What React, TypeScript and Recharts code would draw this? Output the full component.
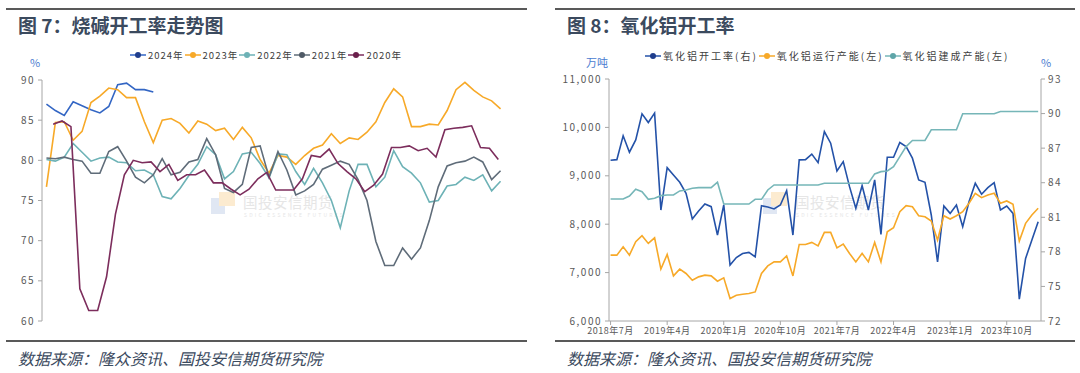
import React from 'react';
import { LineChart, Line, XAxis, YAxis } from 'recharts';

// ---- 图7 烧碱开工率 (weekly, %) ----
const monthLabels = ['1月', '2月', '3月', '4月', '5月', '6月', '7月', '8月', '9月', '10月', '11月', '12月'];

const rate2024 = [87.0, 86.2, 85.6, 87.3, 86.8, 86.3, 85.9, 86.7, 89.4, 89.6, 88.8, 88.8, 88.5];
const rate2023 = [
  76.7, 84.7, 84.8, 82.5, 83.6, 87.2, 88.0, 89.0, 88.8, 87.8, 87.8, 84.8, 82.2, 85.0, 85.2, 84.6, 83.4, 84.9,
  84.5, 83.7, 84.0, 82.6, 84.1, 82.8, 80.1, 78.4, 80.6, 80.4, 79.5, 80.6, 81.5, 81.9, 83.3, 82.1, 82.8, 82.6,
  83.5, 84.8, 87.2, 88.9, 87.9, 84.2, 84.2, 84.5, 84.4, 86.2, 88.8, 89.7, 88.7, 87.9, 87.4, 86.4,
];
const rate2022 = [
  80.1, 79.9, 80.4, 82.1, 81.0, 79.9, 80.3, 80.4, 79.8, 79.7, 78.7, 78.8, 78.2, 75.5, 75.2, 76.5, 78.1, 79.5,
  81.7, 80.7, 77.7, 78.6, 80.8, 81.0, 79.6, 77.8, 80.8, 80.7, 78.6, 77.0, 79.0, 77.2, 75.0, 71.6, 76.2, 79.5,
  79.5, 76.7, 77.9, 81.2, 79.2, 78.4, 77.2, 74.8, 75.0, 76.8, 77.0, 77.9, 77.5, 78.2, 76.2, 77.4,
];
const rate2021 = [
  80.3, 80.2, 80.4, 80.1, 79.9, 78.4, 78.4, 81.1, 81.7, 79.9, 77.9, 77.2, 78.2, 80.2, 78.2, 78.5, 79.8, 80.1,
  82.7, 80.7, 76.5, 76.0, 77.0, 81.6, 81.8, 77.9, 81.1, 78.8, 75.7, 76.2, 77.0, 78.9, 79.4, 79.9, 79.5, 77.6,
  75.0, 69.9, 66.9, 66.9, 69.1, 67.7, 69.1, 72.5, 76.7, 79.3, 79.7, 79.9, 80.4, 79.8, 77.6, 78.7,
];
const rate2020 = [
  84.5, 84.9, 84.2, 64.0, 61.3, 61.3, 65.5, 73.3, 78.2, 80.0, 79.7, 79.8, 78.6, 79.5, 77.5, 78.2, 78.2,
  78.8, 77.2, 77.2, 76.4, 75.7, 76.4, 77.7, 78.5, 76.3, 76.3, 76.3, 77.7, 80.6, 80.4, 81.4, 79.6, 78.6,
  77.7, 76.1, 76.9, 78.3, 81.6, 81.6, 81.8, 81.2, 81.5, 80.4, 83.8, 84.0, 84.1, 84.3, 81.6, 81.5, 80.1,
];
const leftTicks = [60, 65, 70, 75, 80, 85, 90];

// ---- 图8 氧化铝开工率 (monthly, 2018-07 .. 2024-03) ----
const aluminaTickLabels = ['2018年7月', '2019年4月', '2020年1月', '2020年10月', '2021年7月', '2022年4月', '2023年1月', '2023年10月'];
const aluminaRate = [
  85.95, 86.0, 88.07, 86.65, 87.72, 89.98, 89.22, 90.04, 81.63, 85.31, 84.67, 84.04, 83.08, 80.85, 81.54,
  82.15, 81.92, 79.46, 82.07, 76.85, 77.51, 77.86, 77.95, 77.57, 82.0, 81.89, 81.72, 82.07, 83.31, 79.46,
  85.98, 86.0, 86.48, 85.74, 88.44, 87.43, 85.02, 85.83, 83.66, 81.78, 83.74, 81.63, 84.24, 79.52, 86.21,
  86.21, 87.49, 87.14, 86.13, 84.24, 84.04, 81.2, 77.13, 81.98, 81.34, 82.07, 80.18, 82.35, 83.95, 83.0,
  83.57, 84.0, 81.63, 81.98, 81.34, 73.89, 77.43, 79.02, 80.61,
];
const aluminaRunning = [
  7361, 7361, 7533, 7361, 7637, 7761, 7603, 7719, 7071, 7375, 6932, 7071, 6982, 6843, 6912, 6947, 6932,
  6822, 6891, 6464, 6532, 6553, 6567, 6601, 6982, 7139, 7222, 7222, 7346, 6932, 7582, 7582, 7624, 7553,
  7831, 7831, 7512, 7589, 7396, 7222, 7396, 7222, 7624, 7222, 7844, 7926, 8258, 8382, 8361, 8175, 8154,
  8065, 7672, 8175, 8106, 8175, 8258, 8432, 8639, 8548, 8604, 8639, 8432, 8480, 8411, 7651, 8017, 8189, 8328,
];
const aluminaBuilt = [
  8521, 8521, 8521, 8583, 8722, 8672, 8514, 8535, 8590, 8604, 8604, 8687, 8707, 8742, 8755, 8755, 8755,
  8867, 8417, 8417, 8417, 8417, 8417, 8514, 8514, 8707, 8811, 8811, 8811, 8811, 8811, 8811, 8811, 8811,
  8846, 8846, 8846, 8846, 8846, 8846, 8846, 8846, 9039, 9086, 9100, 9190, 9397, 9604, 9730, 9730, 9730,
  9950, 9950, 9950, 9950, 9950, 10282, 10282, 10282, 10282, 10282, 10282, 10330, 10330, 10330, 10330,
  10330, 10330, 10330,
];
const capTicks = [6000, 7000, 8000, 9000, 10000, 11000];
const pctTicks = [72, 75, 78, 81, 84, 87, 90, 93];

const FONT = '"Noto Sans CJK SC", "Noto Sans", sans-serif';
const TITLE = '#3B4A5E';
const AXIS = '#A6A6A6';
const tickStyle = { fontSize: 10, fill: '#595959', letterSpacing: 1.5, fontFamily: FONT };
const dateTickStyle = { fontSize: 9, fill: '#595959', letterSpacing: 0.5, fontFamily: FONT };

const weekly = (vals: number[], shift = 0) => vals.map((v, k) => ({ x: k + 0.5 + shift, v }));
const monthBounds = monthLabels.map((_, i) => (i * 52) / 12).concat(52);
const monthMids = monthLabels.map((_, i) => ((i + 0.5) * 52) / 12);

const aluminaData = aluminaRate.map((r, i) => ({
  i,
  rate: r,
  running: aluminaRunning[i],
  built: aluminaBuilt[i],
}));

const causticSeries = [
  { name: '2024年', data: weekly(rate2024), color: '#3366C4', dot: '#1F3D8C' },
  { name: '2023年', data: weekly(rate2023), color: '#F7A928', dot: '#F7A928' },
  { name: '2022年', data: weekly(rate2022), color: '#6DB2B6', dot: '#6DB2B6' },
  { name: '2021年', data: weekly(rate2021), color: '#5F6C79', dot: '#4F5A66' },
  { name: '2020年', data: weekly(rate2020, 0.75), color: '#7C2D5C', dot: '#6A1F4B' },
];

const aluminaSeries = [
  { key: 'rate', name: '氧化铝开工率(右)', color: '#2452A8', dot: '#1F3D8C', axis: 'r' },
  { key: 'running', name: '氧化铝运行产能(左)', color: '#F7A928', dot: '#F7A928', axis: 'l' },
  { key: 'built', name: '氧化铝建成产能(左)', color: '#76B6B8', dot: '#5EA5A8', axis: 'l' },
];

const LegendRow = ({ items, left, top, fontSize, spacing }: any) => (
  <div style={{ position: 'absolute', left, top, display: 'flex', alignItems: 'center', fontFamily: FONT, fontSize, color: '#404040', letterSpacing: spacing, whiteSpace: 'nowrap' }}>
    {items.map((it: any) => (
      <div key={it.name} style={{ display: 'flex', alignItems: 'center' }}>
        <svg width={16} height={10}>
          <line x1={0} y1={5} x2={16} y2={5} stroke={it.color} strokeWidth={1.5} />
          <circle cx={8} cy={5} r={3} fill={it.dot} />
        </svg>
        <span style={{ marginLeft: 2, marginRight: 1 }}>{it.name}</span>
      </div>
    ))}
  </div>
);

const Watermark = ({ left, top }: { left: number; top: number }) => (
  <div style={{ position: 'absolute', left, top, fontFamily: FONT, color: '#E6E6E6', whiteSpace: 'nowrap' }}>
    <svg width={26} height={24} style={{ position: 'absolute', left: 0, top: 0 }}>
      <rect x={0} y={6} width={14} height={16} fill="#E0E7F3" />
      <rect x={8} y={0} width={16} height={14} fill="#FCEBD0" />
    </svg>
    <div style={{ position: 'absolute', left: 32, top: 2, fontSize: 14.5, lineHeight: '15px', letterSpacing: 0.5 }}>国投安信期货</div>
    <div style={{ position: 'absolute', left: 33, top: 20, fontSize: 5, lineHeight: '5px', letterSpacing: 2.2 }}>SDIC ESSENCE FUTURES</div>
  </div>
);

const Frame = ({ left, width, title }: { left: number; width: number; title: string }) => (
  <>
    <div style={{ position: 'absolute', left, top: 8, width, height: 2, background: '#595959' }} />
    <div style={{ position: 'absolute', left: left + 12, top: 11, fontFamily: FONT, fontSize: 19, fontWeight: 700, color: TITLE }}>{title}</div>
    <div style={{ position: 'absolute', left, top: 340, width, height: 2, background: '#595959' }} />
    <div style={{ position: 'absolute', left: left + 12, top: 346, fontFamily: FONT, fontSize: 16, fontStyle: 'italic', color: TITLE }}>
      数据来源：隆众资讯、国投安信期货研究院
    </div>
  </>
);

const unitStyle = { position: 'absolute' as const, top: 57, fontFamily: FONT, fontSize: 11, lineHeight: '11px', color: '#4A7BD0' };

export default function App() {
  return (
    <div style={{ position: 'absolute', left: 0, top: 0, width: 1080, height: 373, background: '#fff', overflow: 'hidden' }}>
      <Frame left={6} width={521} title="图 7：烧碱开工率走势图" />
      <Frame left={555} width={520} title="图 8：氧化铝开工率" />

      <Watermark left={211} top={192} />
      <Watermark left={763} top={192} />

      <LegendRow items={causticSeries} left={130} top={48} fontSize={9.5} spacing={1} />
      <LegendRow items={aluminaSeries} left={645} top={48} fontSize={10} spacing={2} />

      <div style={{ ...unitStyle, left: 30 }}>%</div>
      <div style={{ ...unitStyle, left: 586 }}>万吨</div>
      <div style={{ ...unitStyle, left: 1041 }}>%</div>

      {/* 图7 */}
      <div style={{ position: 'absolute', left: 0, top: 0 }}>
        <LineChart width={540} height={345} margin={{ top: 80, right: 35, bottom: 0, left: 0 }}>
          <XAxis xAxisId="b" type="number" dataKey="x" domain={[0, 52]} ticks={monthBounds} interval={0}
            height={0} tick={false} tickSize={4} stroke={AXIS} />
          <XAxis xAxisId="m" type="number" dataKey="x" domain={[0, 52]} ticks={monthMids} interval={0}
            height={24} axisLine={false} tickLine={false} tickSize={3} tickMargin={2}
            tickFormatter={(v: number) => monthLabels[Math.round((v * 12) / 52 - 0.5)]} tick={tickStyle} />
          <YAxis type="number" domain={[60, 90]} ticks={leftTicks} interval={0} width={42}
            tickSize={4} tickMargin={3} stroke={AXIS} tick={tickStyle} />
          {causticSeries.map((s) => (
            <Line key={s.name} xAxisId="b" data={s.data} dataKey="v" type="linear" stroke={s.color}
              strokeWidth={1.6} dot={false} isAnimationActive={false} />
          ))}
        </LineChart>
      </div>

      {/* 图8 */}
      <div style={{ position: 'absolute', left: 540, top: 0 }}>
        <LineChart width={540} height={345} data={aluminaData} margin={{ top: 79, right: 0, bottom: 0, left: 0 }}>
          <XAxis type="number" dataKey="i" domain={[-0.25, 68.45]} ticks={aluminaTickLabels.map((_, j) => j * 9)}
            interval={0} height={24} tickSize={4} tickMargin={3} stroke={AXIS}
            tickFormatter={(v: number) => aluminaTickLabels[v / 9]} tick={dateTickStyle} />
          <YAxis yAxisId="l" orientation="left" type="number" domain={[6000, 11000]} ticks={capTicks} interval={0}
            width={69} tickSize={4} tickMargin={3} stroke={AXIS} tick={tickStyle}
            tickFormatter={(v: number) => v.toLocaleString('en-US')} />
          <YAxis yAxisId="r" orientation="right" type="number" domain={[72, 93]} ticks={pctTicks} interval={0}
            width={39} tickSize={4} tickMargin={3} stroke={AXIS} tick={tickStyle} />
          {aluminaSeries.map((s) => (
            <Line key={s.key} yAxisId={s.axis} dataKey={s.key} type="linear" stroke={s.color}
              strokeWidth={1.6} dot={false} isAnimationActive={false} />
          ))}
        </LineChart>
      </div>
    </div>
  );
}
